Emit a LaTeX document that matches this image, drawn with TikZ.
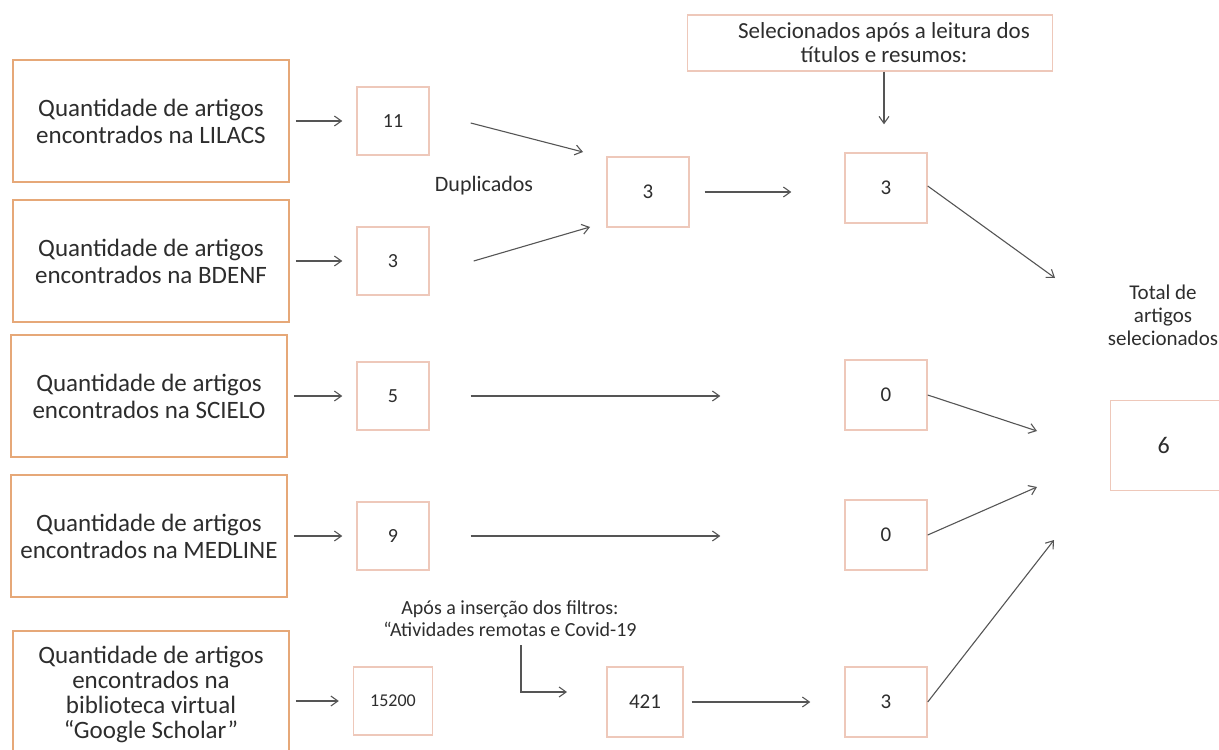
\documentclass[tikz,border=0pt]{standalone}
\usepackage{fontspec}
\setmainfont{Carlito}
\usetikzlibrary{arrows.meta}

\definecolor{boxline}{RGB}{230,168,120}
\definecolor{numline}{RGB}{238,200,186}
\definecolor{arrowgray}{RGB}{85,85,85}
\definecolor{textgray}{RGB}{45,45,45}

\tikzset{
  srcbox/.style={draw=boxline, line width=0.8pt, align=center, text=textgray,
    font=\fontsize{12.5}{13.5}\selectfont, minimum width=138pt, minimum height=61pt, inner sep=0pt},
  numbox/.style={draw=numline, line width=0.7pt, text=textgray, align=center,
    font=\fontsize{10}{11}\selectfont, minimum width=36pt, minimum height=34pt, inner sep=0pt},
  midbox/.style={numbox, font=\fontsize{10.5}{12}\selectfont, minimum width=41pt, minimum height=35pt},
  note/.style={align=center, text=textgray, inner sep=0pt},
  arr/.style={-{Straight Barb[length=3.5pt,width=5pt]}, draw=arrowgray, line width=0.55pt},
}

\begin{document}
\begin{tikzpicture}[x=0.5pt,y=-0.5pt]
    \useasboundingbox (0,0) rectangle (1219,749);
    % bases
    \node[srcbox] (lilacs) at (151,121) {Quantidade de artigos\\encontrados na LILACS};
    \node[srcbox] (bdenf) at (151,261) {Quantidade de artigos\\encontrados na BDENF};
    \node[srcbox] (scielo) at (149,396) {Quantidade de artigos\\encontrados na SCIELO};
    \node[srcbox] (medline) at (149,536) {Quantidade de artigos\\encontrados na MEDLINE};
    \node[srcbox, font=\fontsize{12.5}{12.5}\selectfont, minimum height=63pt] (scholar) at (151,694) {Quantidade de artigos\\encontrados na\\biblioteca virtual\\``Google Scholar''};
    % encontrados
    \node[numbox] (n11) at (393,121) {11};
    \node[numbox] (n3) at (393,261) {3};
    \node[numbox] (n5) at (393,396) {5};
    \node[numbox] (n9) at (393,536) {9};
    \node[numbox, font=\fontsize{9}{11}\selectfont, minimum width=39.5pt] (n15200) at (393,701) {15200};
    % etapas
    \node[midbox] (dup) at (648,192) {3};
    \node[midbox, minimum width=38pt] (n421) at (645,702) {421};
    \node[midbox] (sel3) at (886,188) {3};
    \node[midbox] (zeroA) at (886,395) {0};
    \node[midbox] (zeroB) at (886,535) {0};
    \node[midbox] (selB) at (886,702) {3};
    \node[numbox, font=\fontsize{11.5}{12}\selectfont, minimum width=182.5pt, minimum height=28pt] (leitura) at (870,43) {\hspace*{14pt}Selecionados após a leitura dos\\\hspace*{14pt}títulos e resumos:};
    \node[numbox, font=\fontsize{12}{13}\selectfont, minimum width=56pt, minimum height=45pt, anchor=north west] (total) at (1110,400) {6\hspace*{3pt}};
    % textos
    \node[note, font=\fontsize{11}{12}\selectfont] (duplicados) at (484,186) {Duplicados};
    \node[note, font=\fontsize{10.5}{11.5}\selectfont] (totaltxt) at (1163,315) {Total de\\artigos\\selecionados};
    \node[note, font=\fontsize{10}{11}\selectfont] (filtros) at (510,619) {Após a inserção dos filtros:\\“Atividades remotas e Covid-19};
    % pontos livres
    \coordinate (d1) at (583,152);
    \coordinate (d2) at (590,227);
    \coordinate (t1) at (1055,278);
    \coordinate (t2) at (1037,431);
    \coordinate (t3) at (1037,487);
    \coordinate (t4) at (1054,540);
    \coordinate (f1) at (567,692);
    % setas
    \foreach \a/\b in {lilacs/n11, bdenf/n3, scielo/n5, medline/n9, scholar/n15200}
      \draw[arr, shorten <=3pt, shorten >=7pt] (\a.east |- \b) -- (\b.west);
    \draw[arr] ([xshift=20.5pt,yshift=-1pt]n11.east) -- (d1);
    \draw[arr] ([xshift=22pt]n3.east) -- (d2);
    \draw[arr, shorten <=7.5pt, shorten >=26.5pt] (dup.east) -- (sel3.west |- dup.east);
    \draw[arr, shorten >=14pt] (leitura.south -| 884,0) -- (sel3.north -| 884,0);
    \draw[arr, shorten <=20.5pt, shorten >=62pt] (n5.east) -- (zeroA.west |- n5.east);
    \draw[arr, shorten <=20.5pt, shorten >=62pt] (n9.east) -- (zeroB.west |- n9.east);
    \draw[arr, shorten <=4pt, shorten >=17pt] (n421.east) -- (selB.west);
    \draw[arr] ([yshift=1pt]sel3.east) -- (t1);
    \draw[arr] (zeroA.east) -- (t2);
    \draw[arr] (zeroB.east) -- (t3);
    \draw[arr] (selB.east) -- (t4);
    \draw[arr] ([xshift=5.5pt,yshift=-4pt]filtros.south) |- (f1);
\end{tikzpicture}
\end{document}
